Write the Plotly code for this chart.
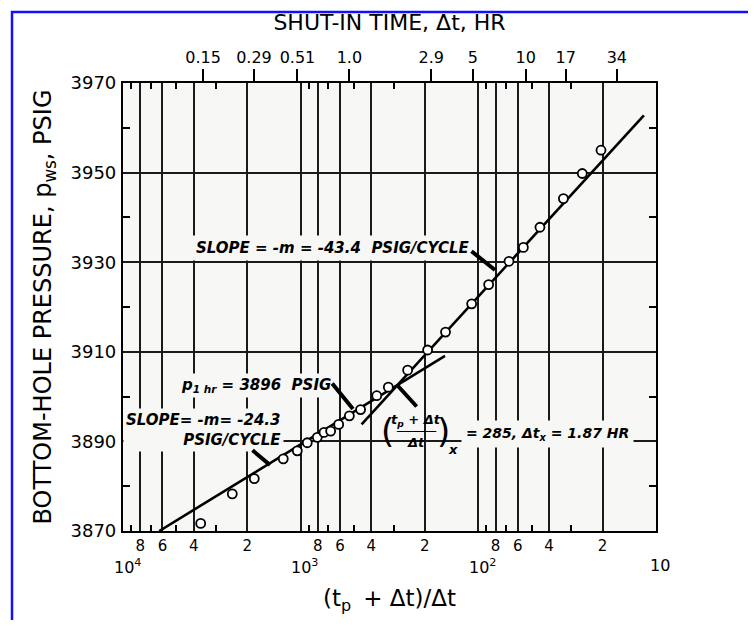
import math
import plotly.graph_objects as go

# ---------------- data ----------------
horner_time = [3654, 2426, 1824, 1253, 1045, 918, 806, 739, 678, 611, 532, 460,
               373, 321, 250, 193, 153, 109, 87.5, 67.2, 55.8, 45.0, 33.2, 26.0, 20.4]
pressure_ws = [3871.7, 3878.3, 3881.7, 3886.1, 3887.9, 3889.7, 3890.9, 3892.0, 3892.3,
               3893.8, 3895.7, 3897.1, 3900.2, 3902.1, 3905.9, 3910.4, 3914.4, 3920.7,
               3925.0, 3930.2, 3933.3, 3937.8, 3944.2, 3949.8, 3955.0]

# straight-line fits
p_1hr = 3896.0          # psig at dt = 1 hr
slope_early = 24.3      # psig/cycle
slope_late = 43.4       # psig/cycle
horner_x = 285.0        # intersection (tp+dt)/dt
dt_x = 1.87             # hr
tp_hours = dt_x * (horner_x - 1.0)

early_line_X = [6250, 154]
late_line_X = [454, 11.7]

# axis ticks
x_grid_vals = [8000, 6000, 4000, 2000, 1000, 800, 600, 400, 200, 100, 80, 60, 40, 20]
x_grid_text = ["8", "6", "4", "2", " ", "8", "6", "4", "2", " ", "8", "6", "4", "2"]
x_minor_vals = [9000, 7000, 5000, 3000, 900, 700, 500, 300, 90, 70, 50, 30]
decade_vals = [10000, 1000, 100, 10]
decade_text = ["10<sup>4</sup>", "10<sup>3</sup>", "10<sup>2</sup>", "10"]
y_major_vals = [3870, 3890, 3910, 3930, 3950, 3970]
y_minor_vals = [3880, 3900, 3920, 3940, 3960]
shut_in_times = [0.15, 0.29, 0.51, 1.0, 2.9, 5, 10, 17, 34]
shut_in_text = ["0.15", "0.29", "0.51", "1.0", "2.9", "5", "10", "17", "34"]

# ---------------- derived ----------------
p_at_x = p_1hr + slope_early * math.log10((tp_hours + 1.0) / horner_x)
early_line_p = [p_1hr + slope_early * math.log10((tp_hours + 1.0) / X) for X in early_line_X]
late_line_p = [p_at_x + slope_late * math.log10(horner_x / X) for X in late_line_X]
shut_in_X = [(tp_hours + dt) / dt for dt in shut_in_times]

# ---------------- style / layout helpers ----------------
BODY = 8                      # default page margin around the figure
FIG_W, FIG_H = 756 - 2 * BODY, 628 - 2 * BODY
PL, PR, PT, PB = 123, 656, 83, 531   # plot area in page pixels
W, H = PR - PL, PB - PT
BG = "#f7f7f5"
FONT = "DejaVu Sans"


def px(x):
    return (x - PL) / W


def py(y):
    return (PB - y) / H


fig = go.Figure()

fig.add_trace(go.Scatter(x=early_line_X, y=early_line_p, mode="lines",
                         line=dict(color="black", width=2.6), hoverinfo="skip", showlegend=False))
fig.add_trace(go.Scatter(x=late_line_X, y=late_line_p, mode="lines",
                         line=dict(color="black", width=2.6), hoverinfo="skip", showlegend=False))
fig.add_trace(go.Scatter(x=horner_time, y=pressure_ws, mode="markers",
                         marker=dict(symbol="circle", size=9, color="white",
                                     line=dict(color="black", width=1.8)),
                         showlegend=False))
# invisible trace to activate secondary axes
fig.add_trace(go.Scatter(x=[1000], y=[3900], xaxis="x2", yaxis="y2", mode="markers",
                         marker=dict(opacity=0), hoverinfo="skip", showlegend=False))

fig.update_layout(
    width=FIG_W, height=FIG_H,
    margin=dict(l=PL - BODY, r=FIG_W - (PR - BODY), t=PT - BODY, b=FIG_H - (PB - BODY),
                autoexpand=False),
    paper_bgcolor="white",
    plot_bgcolor=BG,
    font=dict(family=FONT, color="black"),
    xaxis=dict(
        type="log", range=[4, 1], automargin=False,
        tickmode="array", tickvals=x_grid_vals, ticktext=x_grid_text,
        ticks="", showgrid=True, gridcolor="#1a1a1a", gridwidth=1.6,
        showline=True, linecolor="black", linewidth=2.2, mirror=True,
        tickfont=dict(family=FONT, size=15, color="black"),
        minor=dict(tickmode="array", tickvals=x_minor_vals, ticks="inside",
                   ticklen=6, tickwidth=1.6, tickcolor="black", showgrid=False),
        title=dict(text="(t<sub>p</sub>\u2009 + Δt)/Δt", font=dict(family=FONT, size=23),
                   standoff=36),
        zeroline=False,
    ),
    xaxis2=dict(
        type="log", range=[4, 1], overlaying="x", side="top", anchor="y", automargin=False,
        tickmode="array", tickvals=shut_in_X, ticktext=shut_in_text,
        ticks="outside", ticklen=13, tickwidth=1.6, tickcolor="black",
        showgrid=False, showline=False,
        tickfont=dict(family=FONT, size=16, color="black"),
        minor=dict(tickmode="array", tickvals=x_minor_vals, ticks="inside",
                   ticklen=6, tickwidth=1.6, tickcolor="black", showgrid=False),
        title=dict(text="SHUT-IN TIME, Δt, HR", font=dict(family=FONT, size=22),
                   standoff=10),
        zeroline=False,
    ),
    yaxis=dict(
        range=[3870, 3970], automargin=False,
        tickmode="array", tickvals=y_major_vals,
        ticks="", showgrid=True, gridcolor="#1a1a1a", gridwidth=1.6,
        showline=True, linecolor="black", linewidth=2.2, mirror=True,
        tickfont=dict(family=FONT, size=18, color="black"),
        ticklabelstandoff=1,
        minor=dict(tickmode="array", tickvals=y_minor_vals, ticks="inside",
                   ticklen=7, tickwidth=1.6, tickcolor="black", showgrid=False),
        title=dict(text="BOTTOM-HOLE PRESSURE, p<sub>ws</sub>, PSIG",
                   font=dict(family=FONT, size=24), standoff=12),
        zeroline=False,
    ),
    yaxis2=dict(
        range=[3870, 3970], overlaying="y", side="right", anchor="x", automargin=False,
        tickmode="array", tickvals=[], showticklabels=False, showgrid=False,
        showline=False, ticks="",
        minor=dict(tickmode="array", tickvals=y_minor_vals, ticks="inside",
                   ticklen=7, tickwidth=1.6, tickcolor="black", showgrid=False),
        zeroline=False,
    ),
)

ann = []
# decade labels under the digit labels
for v, t in zip(decade_vals, decade_text):
    ann.append(dict(x=math.log10(v), xref="x", y=0, yref="paper", text=t,
                    showarrow=False, xanchor="center", yanchor="top", xshift=4, yshift=-23,
                    font=dict(family=FONT, size=16, color="black")))

note_font = dict(family=FONT, size=15, color="black")
ann.append(dict(x=px(332), y=py(248), xref="paper", yref="paper",
                text="<b><i>SLOPE = -m = -43.4  PSIG/CYCLE</i></b>", showarrow=False,
                xanchor="center", yanchor="middle", font=note_font, bgcolor=BG,
                height=18, borderpad=3))
ann.append(dict(x=px(256), y=py(385), xref="paper", yref="paper",
                text="<b><i>p<sub>1 hr</sub> = 3896  PSIG</i></b>", showarrow=False,
                xanchor="center", yanchor="middle", font=note_font, bgcolor=BG, borderpad=2))
ann.append(dict(x=px(284), y=py(430), xref="paper", yref="paper",
                text="<b><i>SLOPE= -m= -24.3<br>PSIG/CYCLE</i></b>", showarrow=False,
                align="right", xanchor="right", yanchor="middle", font=note_font,
                bgcolor=BG, borderpad=2))
# fraction label
ann.append(dict(x=px(387), y=py(431), xref="paper", yref="paper", text="(",
                showarrow=False, xanchor="center", yanchor="middle",
                font=dict(family=FONT, size=34, color="black")))
ann.append(dict(x=px(443), y=py(431), xref="paper", yref="paper", text=")",
                showarrow=False, xanchor="center", yanchor="middle",
                font=dict(family=FONT, size=34, color="black")))
ann.append(dict(x=px(416), y=py(420), xref="paper", yref="paper",
                text="<b><i>t<sub>p</sub> + Δt</i></b>", showarrow=False,
                xanchor="center", yanchor="middle", font=dict(family=FONT, size=13, color="black")))
# fraction bar drawn with box-drawing characters
ann.append(dict(x=px(416), y=py(431), xref="paper", yref="paper",
                text="\u2500\u2500\u2500\u2500\u2500", showarrow=False,
                xanchor="center", yanchor="middle",
                font=dict(family=FONT, size=13, color="black")))
ann.append(dict(x=px(416), y=py(442), xref="paper", yref="paper",
                text="<b><i>Δt</i></b>", showarrow=False,
                xanchor="center", yanchor="middle", font=dict(family=FONT, size=13, color="black")))
ann.append(dict(x=px(453), y=py(449), xref="paper", yref="paper",
                text="<b><i>x</i></b>", showarrow=False,
                xanchor="center", yanchor="middle", font=dict(family=FONT, size=13, color="black")))
ann.append(dict(x=px(461), y=py(434), xref="paper", yref="paper",
                text="<b><i>= 285, Δt<sub>x</sub> = 1.87 HR</i></b>", showarrow=False,
                xanchor="left", yanchor="middle", font=dict(family=FONT, size=14, color="black"),
                bgcolor=BG, borderpad=4))

# arrows (tip position, tail offset)
for tip, off in [((495, 270), (-25, -20)), ((353, 409), (-22, -27)),
                 ((270, 465), (-19, -16)), ((398, 386), (20, 22))]:
    ann.append(dict(x=px(tip[0]), y=py(tip[1]), xref="paper", yref="paper", text="",
                    showarrow=True, arrowhead=0, arrowwidth=4, arrowcolor="black",
                    ax=off[0], ay=off[1], standoff=0))

fig.update_layout(annotations=ann)

# blank box behind the fraction (breaks grid lines), blue frame
fig.add_shape(type="rect", xref="paper", yref="paper", x0=px(380), x1=px(452),
              y0=py(455), y1=py(409), fillcolor=BG, line=dict(width=0), layer="between")
fig.add_shape(type="rect", xref="paper", yref="paper", x0=px(12), x1=px(760),
              y0=py(640), y1=py(12), line=dict(color="#1010ff", width=2.5), layer="below")

fig.write_html("out.html")
